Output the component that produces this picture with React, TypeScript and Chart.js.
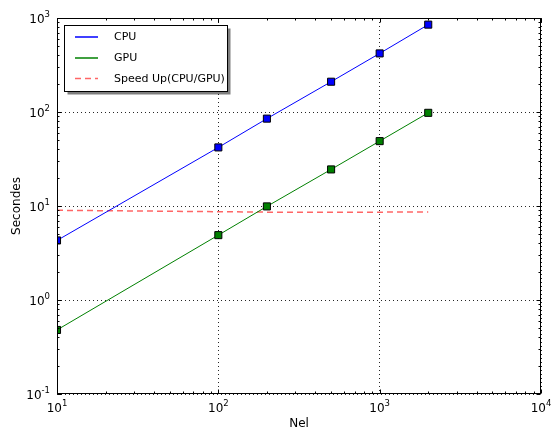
import { useEffect, useRef } from "react";
import { Chart, registerables } from "chart.js";

Chart.register(...registerables);

// ---- data ----
const nel = [10, 100, 200, 500, 1000, 2000];
const cpuSeconds = [4.3, 42, 85, 210, 420, 850];
const gpuSeconds = [0.48, 4.9, 9.9, 24.5, 49, 98];
const speedUp = [9.0, 8.7, 8.6, 8.6, 8.6, 8.65];

const xTickValues = [10, 100, 1000, 10000];
const xTickExponents = ["1", "2", "3", "4"];
const yTickValues = [0.1, 1, 10, 100, 1000];
const yTickExponents = ["-1", "0", "1", "2", "3"];

const seriesLabels = ["CPU", "GPU", "Speed Up(CPU/GPU)"];
const xTitle = "Nel";
const yTitle = "Secondes";

const FONT = '"DejaVu Sans", "Liberation Sans", sans-serif';
const BLUE = "#0000ff";
const GREEN = "#008000";
const RED = "rgba(255,0,0,0.6)";

const decorPlugin = {
  id: "decor",
  afterDraw(chart: any) {
    const { ctx, chartArea: a, scales } = chart;
    const xs = scales.x;
    const ys = scales.y;
    ctx.save();
    ctx.setLineDash([]);
    ctx.strokeStyle = "#000";
    ctx.lineWidth = 1;
    const L = Math.round(a.left) + 0.5;
    const R = Math.round(a.right) - 0.5;
    const T = Math.round(a.top) + 0.5;
    const B = Math.round(a.bottom) - 0.5;
    ctx.strokeRect(L, T, R - L, B - T);

    // ticks (inward, all sides)
    ctx.beginPath();
    const xTick = (v: number, len: number) => {
      const px = Math.round(xs.getPixelForValue(v)) + 0.5;
      ctx.moveTo(px, B);
      ctx.lineTo(px, B - len);
      ctx.moveTo(px, T);
      ctx.lineTo(px, T + len);
    };
    const yTick = (v: number, len: number) => {
      const py = Math.round(ys.getPixelForValue(v)) + 0.5;
      ctx.moveTo(L, py);
      ctx.lineTo(L + len, py);
      ctx.moveTo(R, py);
      ctx.lineTo(R - len, py);
    };
    xTickValues.forEach((v, i) => {
      xTick(v, 4);
      if (i < xTickValues.length - 1) for (let m = 2; m <= 9; m++) xTick(v * m, 2);
    });
    yTickValues.forEach((v, i) => {
      yTick(v, 4);
      if (i < yTickValues.length - 1) for (let m = 2; m <= 9; m++) yTick(v * m, 2);
    });
    ctx.stroke();

    // tick labels with superscripts
    ctx.fillStyle = "#000";
    ctx.textBaseline = "alphabetic";
    ctx.textAlign = "left";
    const baseFont = `12px ${FONT}`;
    const supFont = `8.5px ${FONT}`;
    const measure = (exp: string) => {
      ctx.font = baseFont;
      const w1 = ctx.measureText("10").width;
      ctx.font = supFont;
      const w2 = ctx.measureText(exp).width;
      return [w1, w2];
    };
    const drawLabel = (x0: number, baseY: number, exp: string, w1: number) => {
      ctx.font = baseFont;
      ctx.fillText("10", x0, baseY);
      ctx.font = supFont;
      ctx.fillText(exp, x0 + w1, baseY - 6);
    };
    xTickValues.forEach((v, i) => {
      const px = xs.getPixelForValue(v);
      const exp = xTickExponents[i];
      const [w1, w2] = measure(exp);
      drawLabel(px - (w1 + w2) / 2, a.bottom + 18, exp, w1);
    });
    yTickValues.forEach((v, i) => {
      const py = ys.getPixelForValue(v);
      const exp = yTickExponents[i];
      const [w1, w2] = measure(exp);
      drawLabel(a.left - 7 - (w1 + w2), py + 5, exp, w1);
    });

    // axis titles
    ctx.font = `12px ${FONT}`;
    ctx.textAlign = "center";
    ctx.fillText(xTitle, (a.left + a.right) / 2, a.bottom + 33);
    ctx.save();
    ctx.translate(20, (a.top + a.bottom) / 2);
    ctx.rotate(-Math.PI / 2);
    ctx.fillText(yTitle, 0, 0);
    ctx.restore();

    // legend
    const lx = 64.5, ly = 25.5, lw = 163, lh = 66;
    ctx.fillStyle = "rgba(0,0,0,0.5)";
    ctx.fillRect(lx + 3, ly + 3, lw, lh);
    ctx.fillStyle = "#fff";
    ctx.fillRect(lx, ly, lw, lh);
    ctx.strokeStyle = "#000";
    ctx.lineWidth = 1;
    ctx.strokeRect(lx, ly, lw, lh);
    const colors = [BLUE, GREEN, RED];
    const rows = [37, 58, 78.5];
    ctx.textAlign = "left";
    ctx.textBaseline = "middle";
    ctx.font = `11px ${FONT}`;
    seriesLabels.forEach((lab, i) => {
      ctx.beginPath();
      ctx.strokeStyle = colors[i];
      ctx.lineWidth = 1.5;
      ctx.setLineDash(i === 2 ? [6, 4] : []);
      ctx.moveTo(75, rows[i]);
      ctx.lineTo(98, rows[i]);
      ctx.stroke();
      ctx.setLineDash([]);
      ctx.fillStyle = "#000";
      ctx.fillText(lab, 114, rows[i] + 0.5);
    });
    ctx.restore();
  },
};

export default function App() {
  const ref = useRef<HTMLCanvasElement | null>(null);
  useEffect(() => {
    if (!ref.current) return;
    const pts = (ys: number[]) => nel.map((x, i) => ({ x, y: ys[i] }));
    const chart = new Chart(ref.current, {
      type: "line",
      data: {
        datasets: [
          {
            label: seriesLabels[0],
            data: pts(cpuSeconds),
            borderColor: BLUE,
            backgroundColor: BLUE,
            borderWidth: 1,
            pointStyle: "rect",
            pointRadius: 5,
            pointBorderColor: "#000",
            pointBorderWidth: 1,
            pointBackgroundColor: BLUE,
          },
          {
            label: seriesLabels[1],
            data: pts(gpuSeconds),
            borderColor: GREEN,
            backgroundColor: GREEN,
            borderWidth: 1,
            pointStyle: "rect",
            pointRadius: 5,
            pointBorderColor: "#000",
            pointBorderWidth: 1,
            pointBackgroundColor: GREEN,
          },
          {
            label: seriesLabels[2],
            data: pts(speedUp),
            borderColor: RED,
            borderWidth: 1.5,
            borderDash: [6, 4],
            pointRadius: 0,
          },
        ],
      },
      options: {
        responsive: false,
        animation: false,
        layout: { padding: { left: 57, top: 18, right: 10, bottom: 36 } },
        plugins: { legend: { display: false }, tooltip: { enabled: false } },
        scales: {
          x: {
            type: "logarithmic",
            min: 10,
            max: 10000,
            afterBuildTicks: (s: any) => {
              s.ticks = xTickValues.map((value) => ({ value }));
            },
            ticks: { display: false },
            grid: { color: "rgba(0,0,0,0.85)", drawTicks: false, lineWidth: 1 },
            border: { display: false, dash: [1, 3] },
          },
          y: {
            type: "logarithmic",
            min: 0.1,
            max: 1000,
            afterBuildTicks: (s: any) => {
              s.ticks = yTickValues.map((value) => ({ value }));
            },
            ticks: { display: false },
            grid: { color: "rgba(0,0,0,0.85)", drawTicks: false, lineWidth: 1 },
            border: { display: false, dash: [1, 3] },
          },
        },
      },
      plugins: [decorPlugin],
    });
    return () => chart.destroy();
  }, []);
  return (
    <div style={{ position: "fixed", left: 0, top: 0, width: 551, height: 430, background: "#fff" }}>
      <canvas ref={ref} width={551} height={430} style={{ width: 551, height: 430 }} />
    </div>
  );
}
